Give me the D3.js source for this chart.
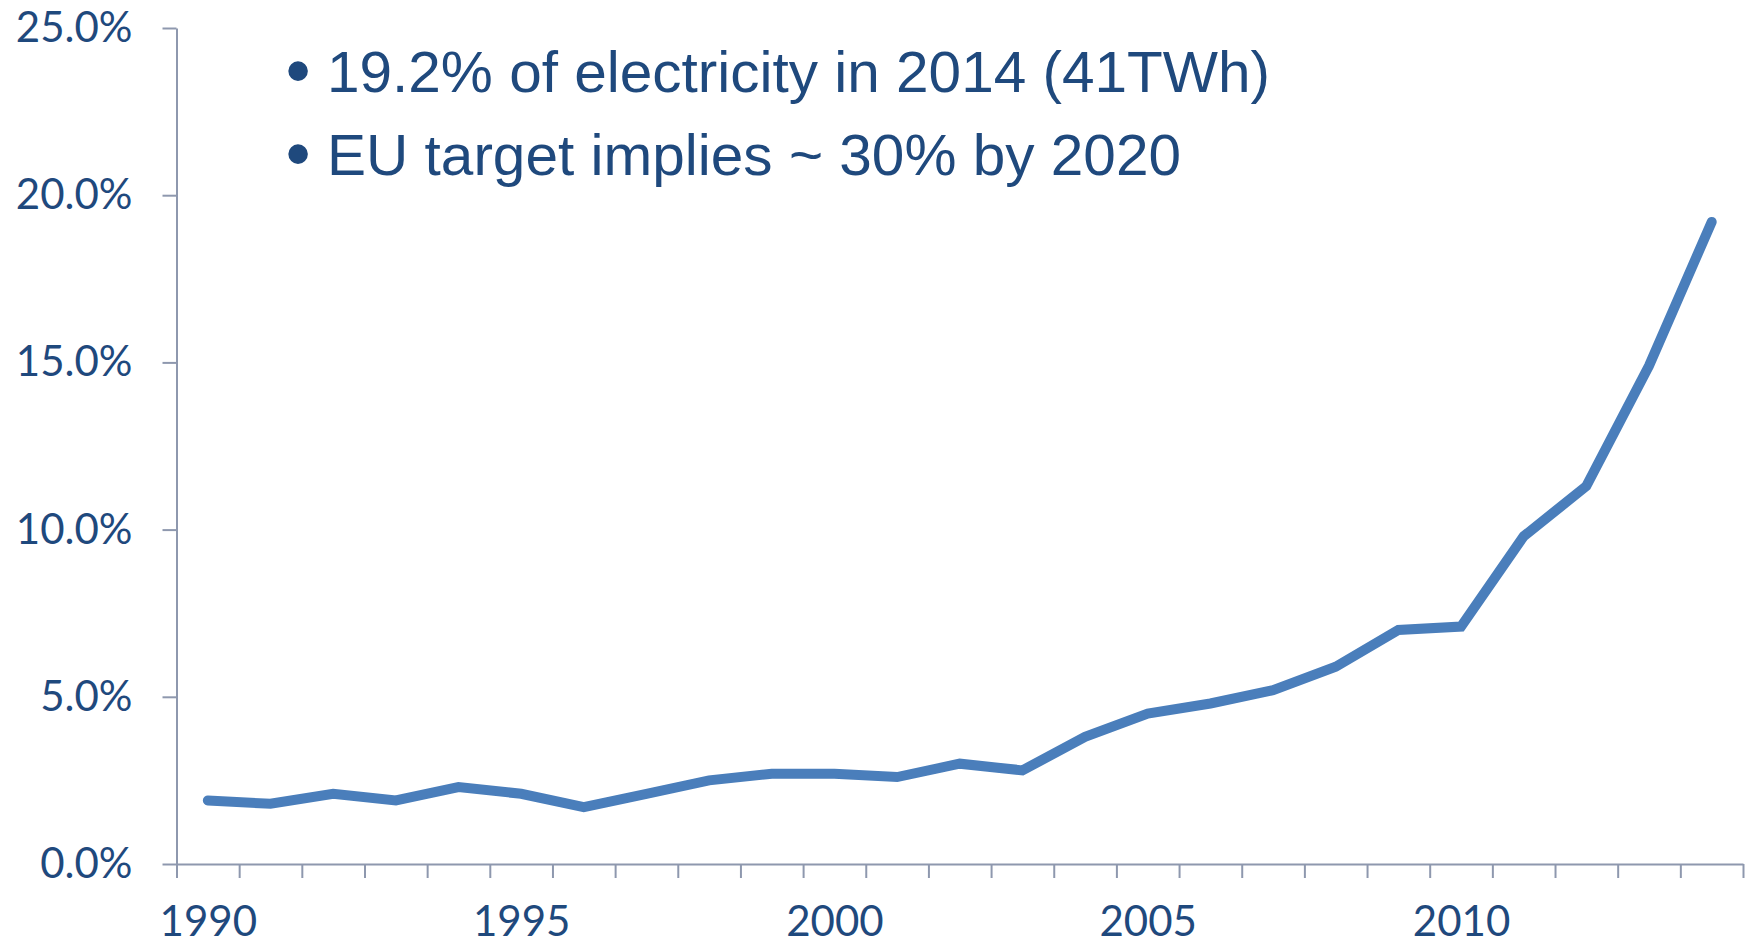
<!DOCTYPE html>
<html>
<head>
<meta charset="utf-8">
<script src="https://cdn.jsdelivr.net/npm/d3@7"></script>
<style>
  html, body { margin: 0; padding: 0; background: #fff; }
  svg { display: block; }
</style>
</head>
<body>
<svg id="chart" width="1752" height="944"></svg>
<script>
// Share of electricity, by year
const years = [1990, 1991, 1992, 1993, 1994, 1995, 1996, 1997, 1998, 1999,
               2000, 2001, 2002, 2003, 2004, 2005, 2006, 2007, 2008, 2009,
               2010, 2011, 2012, 2013, 2014];
const sharePct = [1.9, 1.8, 2.1, 1.9, 2.3, 2.1, 1.7, 2.1, 2.5, 2.7,
                  2.7, 2.6, 3.0, 2.8, 3.8, 4.5, 4.8, 5.2, 5.9, 7.0,
                  7.1, 9.8, 11.3, 14.9, 19.2];
const yTicks = [0, 5, 10, 15, 20, 25];
const xLabelYears = [1990, 1995, 2000, 2005, 2010];
const notes = [
  "19.2% of electricity in 2014 (41TWh)",
  "EU target implies ~ 30% by 2020"
];

const textColor = "#1F497D";
const axisColor = "#8E98AE";
const lineColor = "#4A7EBB";

const svg = d3.select("#chart");
const plotLeft = 176.5, plotRight = 1743, plotTop = 28, plotBottom = 864;

const x = d3.scaleLinear()
  .domain([years[0] - 0.5, years[years.length - 1] + 0.5])
  .range([plotLeft, plotRight]);
const y = d3.scaleLinear().domain([0, 25]).range([plotBottom, plotTop]);

// Y axis
const yAxis = svg.append("g")
  .attr("transform", `translate(${plotLeft},0)`)
  .call(d3.axisLeft(y).tickValues(yTicks).tickSize(14).tickSizeOuter(0)
    .tickPadding(30).tickFormat(d => d.toFixed(1) + "%"));
yAxis.select(".domain").attr("stroke", axisColor).attr("stroke-width", 2);
yAxis.selectAll(".tick line").attr("stroke", axisColor).attr("stroke-width", 2);
yAxis.selectAll(".tick text")
  .attr("fill", textColor)
  .style("font-family", "Lato, 'Open Sans', sans-serif")
  .style("font-size", "42px");

// X axis: tick marks on the year boundaries
const boundaries = d3.range(years.length + 1).map(i => years[0] - 0.5 + i);
const xAxis = svg.append("g")
  .attr("transform", `translate(0,${plotBottom})`)
  .call(d3.axisBottom(x).tickValues(boundaries).tickSize(14).tickSizeOuter(0)
    .tickFormat(""));
xAxis.select(".domain").attr("stroke", axisColor).attr("stroke-width", 2);
xAxis.selectAll(".tick line").attr("stroke", axisColor).attr("stroke-width", 2);

// X axis labels, centred on their year
const xLabels = svg.append("g")
  .attr("transform", `translate(0,${plotBottom})`)
  .call(d3.axisBottom(x).tickValues(xLabelYears).tickSize(0).tickPadding(42)
    .tickFormat(d3.format("d")));
xLabels.select(".domain").remove();
xLabels.selectAll(".tick text")
  .attr("fill", textColor)
  .style("font-family", "Lato, 'Open Sans', sans-serif")
  .style("font-size", "42px");

// Series line
const line = d3.line()
  .x((d, i) => x(years[i]))
  .y(d => y(d));
svg.append("path")
  .datum(sharePct)
  .attr("d", line)
  .attr("fill", "none")
  .attr("stroke", lineColor)
  .attr("stroke-width", 10)
  .attr("stroke-linecap", "round")
  .attr("stroke-linejoin", "miter");

// Bulleted notes
const noteBaselines = [92, 175];
const noteWidths = [943, 854];
notes.forEach((t, i) => {
  svg.append("text")
    .attr("x", 298).attr("y", noteBaselines[i] + 3)
    .attr("text-anchor", "middle")
    .attr("fill", textColor)
    .style("font-family", "'Liberation Sans', Arial, sans-serif")
    .style("font-size", "72px")
    .text("\u2022");
  svg.append("text")
    .attr("x", 327).attr("y", noteBaselines[i])
    .attr("fill", textColor)
    .attr("textLength", noteWidths[i])
    .attr("lengthAdjust", "spacingAndGlyphs")
    .style("font-family", "'Liberation Sans', Arial, sans-serif")
    .style("font-size", "58px")
    .text(t);
});
</script>
</body>
</html>
